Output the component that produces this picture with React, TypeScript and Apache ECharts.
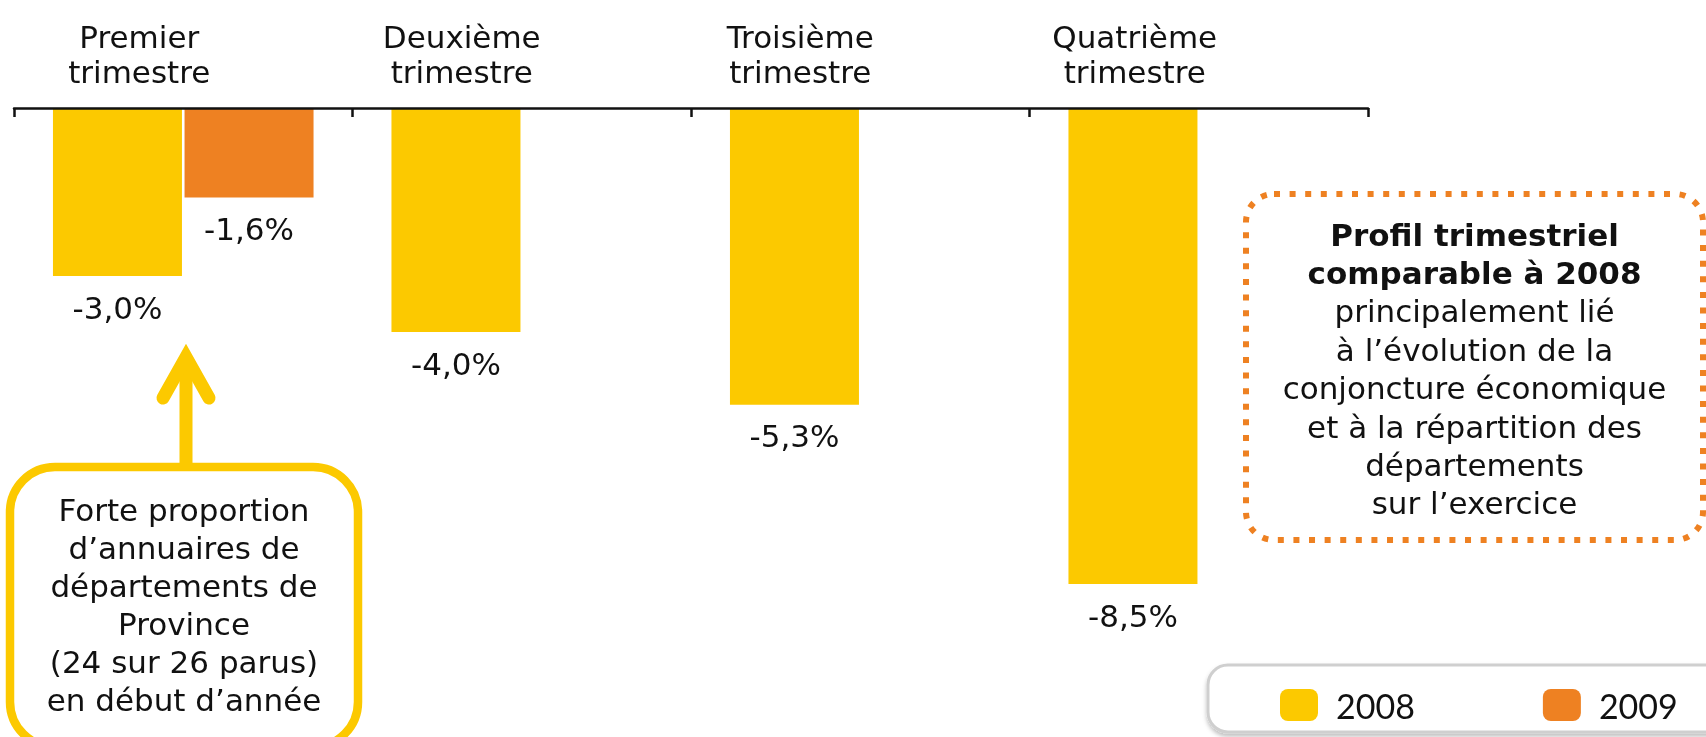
import React, { useEffect, useRef } from "react";
import * as echarts from "echarts";

const categories = [
  "Premier\ntrimestre",
  "Deuxième\ntrimestre",
  "Troisième\ntrimestre",
  "Quatrième\ntrimestre",
];
const seriesNames = ["2008", "2009"];
const values2008 = [-3.0, -4.0, -5.3, -8.5];
const values2009: (number | string)[] = [-1.6, "-", "-", "-"];

const noteRightBold = ["Profil trimestriel", "comparable à 2008"];
const noteRightLines = [
  "principalement lié",
  "à l’évolution de la",
  "conjoncture économique",
  "et à la répartition des",
  "départements",
  "sur l’exercice",
];
const noteLeftLines = [
  "Forte proportion",
  "d’annuaires de",
  "départements de",
  "Province",
  "(24 sur 26 parus)",
  "en début d’année",
];

const YELLOW = "#FCC900";
const ORANGE = "#EE8122";
const FONT = "DejaVu Sans";
const TEXT = "#111111";
const labelShift = [44, 60, 60, 64];

export default function App() {
  const ref = useRef<HTMLDivElement>(null);

  useEffect(() => {
    if (!ref.current) return;
    const chart = echarts.init(ref.current, null, { renderer: "svg" });

    const rich: Record<string, any> = {};
    labelShift.forEach((d, i) => {
      rich["q" + i] = {
        fontFamily: FONT,
        fontSize: 31,
        lineHeight: 35,
        color: TEXT,
        padding: [0, d * 2, 0, 0],
      };
    });

    const fmt = (p: any) =>
      typeof p.value === "number"
        ? p.value.toFixed(1).replace(".", ",") + "%"
        : "";

    const rightText =
      noteRightBold.map((l) => `{b|${l}}`).join("\n") +
      "\n" +
      noteRightLines.map((l) => `{n|${l}}`).join("\n");

    const barLabel = {
      show: true,
      position: "bottom",
      distance: 16,
      formatter: fmt,
      fontFamily: FONT,
      fontSize: 31,
      color: TEXT,
    };

    chart.setOption({
      animation: false,
      grid: { left: 14, right: 338, top: 108, bottom: 69 },
      legend: {
        data: seriesNames,
        left: 1275,
        top: 683,
        itemWidth: 38,
        itemHeight: 32,
        itemGap: 128,
        icon: "roundRect",
        selectedMode: false,
        textStyle: {
          fontFamily: "Lato",
          fontSize: 34,
          color: TEXT,
          padding: [0, 0, 0, 13],
        },
      },
      xAxis: {
        type: "category",
        position: "top",
        z: 5,
        data: categories,
        axisLine: { show: true, onZero: false, lineStyle: { color: TEXT, width: 2.5 } },
        axisTick: {
          show: true,
          inside: true,
          alignWithLabel: false,
          interval: 0,
          length: 9,
          lineStyle: { color: TEXT, width: 2.5 },
        },
        axisLabel: {
          interval: 0,
          margin: 19,
          formatter: (value: string, index: number) =>
            value
              .split("\n")
              .map((l) => `{q${index}|${l}}`)
              .join("\n"),
          rich,
        },
      },
      yAxis: { type: "value", min: -10, max: 0, show: false },
      series: [
        {
          name: seriesNames[0],
          type: "bar",
          data: values2008,
          barWidth: 129,
          barGap: "2%",
          itemStyle: { color: YELLOW },
          label: barLabel,
          emphasis: { disabled: true },
        },
        {
          name: seriesNames[1],
          type: "bar",
          data: values2009,
          barWidth: 129,
          barGap: "2%",
          itemStyle: { color: ORANGE },
          label: barLabel,
          emphasis: { disabled: true },
        },
      ],
      graphic: [
        {
          type: "rect",
          z: 0,
          shape: { x: 1208, y: 665, width: 560, height: 67, r: 20 },
          style: {
            fill: "#ffffff",
            stroke: "#cfcfcf",
            lineWidth: 3,
            shadowBlur: 4,
            shadowOffsetY: 3,
            shadowColor: "rgba(0,0,0,0.25)",
          },
        },
        {
          type: "rect",
          shape: { x: 1246, y: 194, width: 457, height: 346, r: 28 },
          style: {
            fill: "none",
            stroke: ORANGE,
            lineWidth: 6,
            lineDash: [6, 9.6],
          },
        },
        {
          type: "text",
          x: 1474.5,
          y: 369,
          style: {
            text: rightText,
            align: "center",
            verticalAlign: "middle",
            fill: TEXT,
            rich: {
              b: { fontFamily: FONT, fontSize: 31, fontWeight: "bold", lineHeight: 38.4, fill: TEXT, color: TEXT },
              n: { fontFamily: FONT, fontSize: 31, lineHeight: 38.4, fill: TEXT, color: TEXT },
            },
          },
        },
        {
          type: "line",
          shape: { x1: 186, y1: 362, x2: 186, y2: 467 },
          style: { stroke: YELLOW, lineWidth: 13 },
        },
        {
          type: "polyline",
          shape: { points: [[163, 398], [186, 357], [209, 398]] },
          style: { stroke: YELLOW, lineWidth: 13, lineCap: "round", lineJoin: "miter", fill: "none" },
        },
        {
          type: "rect",
          shape: { x: 10, y: 467, width: 348, height: 280, r: 45 },
          style: { fill: "#ffffff", stroke: YELLOW, lineWidth: 8.5 },
        },
        {
          type: "text",
          x: 184,
          y: 605,
          style: {
            text: noteLeftLines.join("\n"),
            align: "center",
            verticalAlign: "middle",
            fontFamily: FONT,
            fontSize: 31,
            lineHeight: 38,
            fill: TEXT,
          },
        },
      ],
    });

    return () => chart.dispose();
  }, []);

  return (
    <div
      ref={ref}
      style={{ position: "fixed", left: 0, top: 0, width: 1706, height: 737 }}
    />
  );
}
